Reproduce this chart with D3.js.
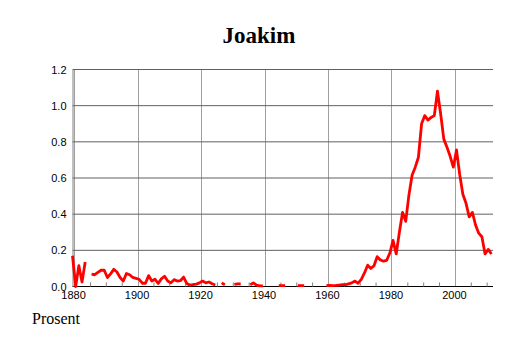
<!DOCTYPE html>
<html>
<head>
<meta charset="utf-8">
<script src="https://cdn.jsdelivr.net/npm/d3@7"></script>
<style>
body { margin: 0; background: #fff; }
svg { display: block; }
.tickText text { font-family: "Liberation Sans", Arial, sans-serif; font-size: 11px; fill: #000; }
</style>
</head>
<body>
<div id="container"></div>
<script>
var width = 514, height = 343;

// share of newborns named Joakim, per cent, 1880..2012 (null = not shown)
var firstYear = 1880;
var values = [
	0.17, 0.0, 0.115, 0.025, 0.135, null, 0.068, 0.065, 0.078, 0.09,
	0.09, 0.05, 0.07, 0.095, 0.08, 0.05, 0.03, 0.072, 0.065, 0.05,
	0.045, 0.04, 0.018, 0.018, 0.06, 0.03, 0.04, 0.017, 0.042, 0.057,
	0.03, 0.02, 0.038, 0.03, 0.032, 0.052, 0.017, 0.008, 0.011, 0.013,
	0.02, 0.03, 0.02, 0.025, 0.015, 0.008, null, 0.02, 0.01, null,
	null, 0.012, 0.015, 0.015, null, null, 0.01, 0.02, 0.008, 0.003,
	0.003, null, null, null, null, 0.005, 0.005, 0.005, null, null,
	null, 0.005, 0.005, 0.005, null, null, null, null, null, null,
	0.005, 0.006, 0.005, 0.006, 0.008, 0.01, 0.01, 0.015, 0.02, 0.03,
	0.018, 0.04, 0.075, 0.118, 0.10, 0.115, 0.165, 0.147, 0.14, 0.145,
	0.185, 0.255, 0.18, 0.30, 0.41, 0.36, 0.505, 0.615, 0.66, 0.715,
	0.90, 0.945, 0.92, 0.935, 0.945, 1.08, 0.955, 0.815, 0.77, 0.72,
	0.66, 0.755, 0.62, 0.51, 0.46, 0.385, 0.41, 0.34, 0.295, 0.275,
	0.18, 0.205, 0.18
];
var yTicks = [0, 0.2, 0.4, 0.6, 0.8, 1.0, 1.2];
var xTicks = [1880, 1900, 1920, 1940, 1960, 1980, 2000];
var xMinor = [1885, 1890, 1895, 1905, 1910, 1915, 1925, 1930, 1935, 1945, 1950, 1955,
	1965, 1970, 1975, 1985, 1990, 1995, 2005, 2010];

var data = values.map(function(v, i){ return {year: firstYear + i, value: v}; });

var xScale = d3.scaleLinear().domain([1879.5, 2012]).range([72.5, 493]);
var yScale = d3.scaleLinear().domain([0, 1.2]).range([286.5, 69.5]);

function visualize() {
	var svg = d3.select('#container').append('svg')
		.attr('width', width)
		.attr('height', height);

	svg.append('text')
		.attr('x', 259).attr('y', 43)
		.attr('text-anchor', 'middle')
		.style('font-family', '"Liberation Serif", "Times New Roman", serif')
		.style('font-weight', 'bold')
		.style('font-size', '23px')
		.text('Joakim');

	// vertical grid
	svg.append('g').selectAll('line').data(xTicks).enter()
		.append('line')
		.attr('x1', function(d){ return Math.round(xScale(d)) + 0.5; })
		.attr('x2', function(d){ return Math.round(xScale(d)) + 0.5; })
		.attr('y1', yScale(1.2)).attr('y2', yScale(0))
		.attr('stroke', '#a0a0a0');

	// horizontal grid
	svg.append('g').selectAll('line').data(yTicks).enter()
		.append('line')
		.attr('x1', xScale.range()[0]).attr('x2', xScale.range()[1])
		.attr('y1', function(d){ return yScale(d); })
		.attr('y2', function(d){ return yScale(d); })
		.attr('stroke', function(d){ return d === 0 ? '#000' : '#606060'; });

	// y axis
	var yAxis = d3.axisLeft(yScale).tickValues(yTicks)
		.tickFormat(d3.format('.1f')).tickSize(0).tickPadding(6);
	svg.append('g')
		.classed('tickText', true)
		.attr('transform', 'translate(' + xScale.range()[0] + ',0)')
		.call(yAxis)
		.call(function(g){ g.select('.domain').attr('stroke', '#808080'); });

	// x axis: minor ticks inside, labels below
	var xMinorAxis = d3.axisBottom(xScale).tickValues(xMinor)
		.tickSize(-4).tickFormat('');
	svg.append('g')
		.attr('transform', 'translate(0,' + yScale(0) + ')')
		.call(xMinorAxis)
		.call(function(g){
			g.select('.domain').remove();
			g.selectAll('line').attr('stroke', '#808080');
		});
	var xAxis = d3.axisBottom(xScale).tickValues(xTicks)
		.tickFormat(d3.format('d')).tickSize(0).tickPadding(5);
	svg.append('g')
		.classed('tickText', true)
		.attr('transform', 'translate(-1,' + yScale(0) + ')')
		.call(xAxis)
		.call(function(g){ g.select('.domain').remove(); });

	var line = d3.line()
		.defined(function(d){ return d.value !== null; })
		.x(function(d){ return xScale(d.year - 0.5); })
		.y(function(d){ return yScale(d.value); });

	svg.append('path')
		.attr('d', line(data))
		.attr('stroke', '#ff0000')
		.attr('stroke-width', 2.8)
		.attr('stroke-linejoin', 'round')
		.attr('fill', 'none');

	svg.append('text')
		.attr('x', 32).attr('y', 324)
		.style('font-family', '"Liberation Serif", "Times New Roman", serif')
		.style('font-size', '16px')
		.text('Prosent');
}

window.onload = visualize;
</script>
</body>
</html>
